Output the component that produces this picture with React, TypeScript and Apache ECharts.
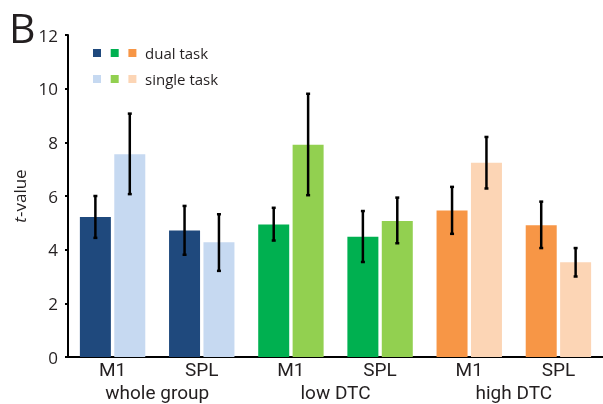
import React, { useEffect, useRef } from "react";
import * as echarts from "echarts";

const groups = ["whole group", "low DTC", "high DTC"];
const regions = ["M1", "SPL", "M1", "SPL", "M1", "SPL"];
const dualValues = [5.22, 4.71, 4.94, 4.48, 5.46, 4.91];
const dualLow = [4.44, 3.81, 4.34, 3.54, 4.59, 4.06];
const dualHigh = [6.0, 5.63, 5.56, 5.44, 6.34, 5.79];
const singleValues = [7.56, 4.28, 7.91, 5.07, 7.24, 3.53];
const singleLow = [6.07, 3.21, 6.03, 4.24, 6.28, 3.0];
const singleHigh = [9.07, 5.32, 9.81, 5.94, 8.2, 4.06];
const dualColors = ["#1F497D", "#00B050", "#F79646"];
const singleColors = ["#C6D9F1", "#92D050", "#FCD5B5"];
const legendLabels = ["dual task", "single task"];

const FONT = "Open Sans";
const XFONT = "Roboto";
const TEXT = "#231F20";
const BAR_W = 31;
const BAR_GAP = 3.4;

function errorSeries(name: string, low: number[], high: number[], offset: number) {
  return {
    type: "custom",
    name,
    z: 5,
    data: low.map((l, i) => [i, l, high[i]]),
    renderItem: (params: any, api: any) => {
      const idx = api.value(0);
      const lo = api.coord([idx, api.value(1)]);
      const hi = api.coord([idx, api.value(2)]);
      const x = lo[0] + offset;
      const st = { stroke: "#000", lineWidth: 2.5 };
      return {
        type: "group",
        children: [
          { type: "line", shape: { x1: x, y1: lo[1], x2: x, y2: hi[1] }, style: st },
          { type: "line", shape: { x1: x - 2, y1: lo[1], x2: x + 2, y2: lo[1] }, style: st },
          { type: "line", shape: { x1: x - 2, y1: hi[1], x2: x + 2, y2: hi[1] }, style: st },
        ],
      };
    },
  };
}

export default function App() {
  const ref = useRef<HTMLDivElement>(null);
  useEffect(() => {
    if (!ref.current) return;
    const chart = echarts.init(ref.current, null, { renderer: "svg" });
    const off = (BAR_W + BAR_GAP) / 2;
    const legendRows = [
      { label: legendLabels[0], colors: dualColors, y: 53 },
      { label: legendLabels[1], colors: singleColors, y: 79 },
    ];
    const graphic: any[] = [
      {
        type: "text",
        x: 9,
        y: 27,
        style: {
          text: "B",
          font: `41px '${FONT}'`,
          fill: TEXT,
          verticalAlign: "middle",
          lineHeight: 34,
        },
      },
    ];
    legendRows.forEach((r) => {
      r.colors.forEach((c, k) => {
        graphic.push({
          type: "rect",
          shape: { x: 93 + k * 17.7, y: r.y - 4, width: 8, height: 8 },
          style: { fill: c },
        });
      });
      graphic.push({
        type: "text",
        x: 145,
        y: r.y,
        style: {
          text: r.label,
          font: `15px '${FONT}'`,
          fill: TEXT,
          verticalAlign: "middle",
          align: "left",
        },
      });
    });

    chart.setOption({
      animation: false,
      textStyle: { fontFamily: FONT, color: TEXT },
      grid: { left: 68, right: -5, top: 35, bottom: 47, containLabel: false },
      graphic,
      xAxis: [
        {
          type: "category",
          data: regions,
          position: "bottom",
          axisLine: { show: true, onZero: false, lineStyle: { color: "#000", width: 2 } },
          axisTick: { show: false },
          axisLabel: {
            fontSize: 19,
            lineHeight: 19,
            color: TEXT,
            margin: 3,
            fontFamily: XFONT,
          },
        },
        {
          type: "category",
          data: groups,
          position: "bottom",
          axisLine: { show: false },
          axisTick: { show: false },
          axisLabel: {
            fontSize: 19,
            lineHeight: 19,
            color: TEXT,
            margin: 26,
            fontFamily: XFONT,
          },
        },
      ],
      yAxis: {
        type: "value",
        min: 0,
        max: 12,
        interval: 2,
        name: "{i|t}-value",
        nameLocation: "middle",
        nameGap: 34,
        nameTextStyle: {
          fontSize: 17,
          color: TEXT,
          fontFamily: FONT,
          rich: { i: { fontStyle: "italic", fontSize: 17, color: TEXT, fontFamily: FONT } },
        },
        splitLine: { show: false },
        axisLine: { show: true, lineStyle: { color: "#000", width: 2 } },
        axisTick: { show: true, length: 3, lineStyle: { color: "#000", width: 2 } },
        axisLabel: { fontSize: 17, color: TEXT, margin: 10, fontFamily: FONT },
      },
      series: [
        {
          type: "bar",
          name: legendLabels[0],
          barWidth: BAR_W,
          barGap: `${(BAR_GAP / BAR_W) * 100}%`,
          data: dualValues.map((v, i) => ({
            value: v,
            itemStyle: { color: dualColors[Math.floor(i / 2)] },
          })),
        },
        {
          type: "bar",
          name: legendLabels[1],
          barWidth: BAR_W,
          barGap: `${(BAR_GAP / BAR_W) * 100}%`,
          data: singleValues.map((v, i) => ({
            value: v,
            itemStyle: { color: singleColors[Math.floor(i / 2)] },
          })),
        },
        errorSeries("dual err", dualLow, dualHigh, -off),
        errorSeries("single err", singleLow, singleHigh, off),
      ],
    });
    return () => chart.dispose();
  }, []);
  return (
    <div
      ref={ref}
      style={{ position: "fixed", left: 0, top: 0, width: 603, height: 404 }}
    />
  );
}
